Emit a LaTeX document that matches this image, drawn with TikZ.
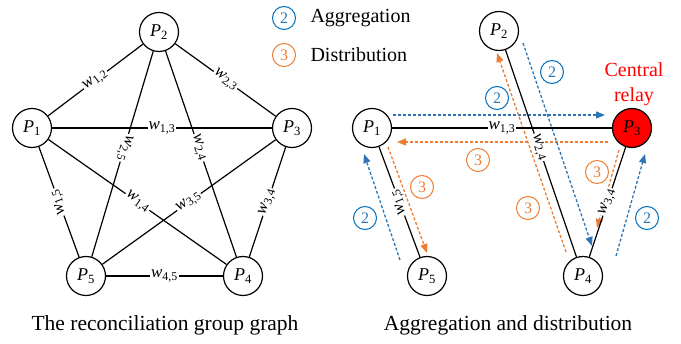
\documentclass[tikz,border=0pt]{standalone}
\usepackage{fontspec}
\setmainfont{Liberation Serif}
\usetikzlibrary{arrows.meta,positioning}

\definecolor{aggblue}{RGB}{46,117,182}
\definecolor{aggring}{RGB}{0,112,192}
\definecolor{disorange}{RGB}{237,125,49}

\newcommand{\Pn}[1]{\textit{P}\textsubscript{#1}}
\newcommand{\wn}[1]{\textit{w}\textsubscript{#1}}
\newcommand{\fsz}[1]{\fontsize{#1}{#1}\selectfont}

\tikzset{
  peer/.style={draw,circle,line width=1.2pt,minimum size=39pt,inner sep=0pt,font=\fsz{18}},
  wlabel/.style={fill=white,inner sep=1pt,font=\fsz{17},sloped,allow upside down},
  edge/.style={line width=1.2pt},
  aggarrow/.style={aggblue,line width=1.3pt,dash pattern=on 3pt off 2pt,-{Triangle[length=9pt,width=7pt]}},
  disarrow/.style={disorange,line width=1.3pt,dash pattern=on 3pt off 2pt,-{Triangle[length=9pt,width=7pt]}},
  aggnum/.style={draw=aggring,circle,line width=1pt,minimum size=23pt,inner sep=0pt,text=aggblue,font=\fsz{16}},
  disnum/.style={draw=disorange,circle,line width=1pt,minimum size=23pt,inner sep=0pt,text=disorange,font=\fsz{16}}
}

\begin{document}
\begin{tikzpicture}[x=1pt,y=-1pt]
    \useasboundingbox (0,0) rectangle (681,344);

    % the reconciliation group graph
    \node[peer] (l1) at (32,128) {\Pn{1}};
    \node[peer] (l2) at (159,32) {\Pn{2}};
    \node[peer] (l3) at (292,128) {\Pn{3}};
    \node[peer] (l4) at (243,276) {\Pn{4}};
    \node[peer] (l5) at (86,276) {\Pn{5}};

    \draw[edge] (l1) -- node[wlabel] {\wn{1,2}} (l2);
    \draw[edge] (l2) -- node[wlabel] {\wn{2,3}} (l3);
    \draw[edge] (l1) -- node[wlabel] {\wn{1,3}} (l3);
    \draw[edge] (l5) -- node[wlabel] {\wn{4,5}} (l4);
    \draw[edge] (l1) -- node[wlabel] {\wn{1,4}} (l4);
    \draw[edge] (l5) -- node[wlabel] {\wn{3,5}} (l3);
    \draw[edge] (l2) -- node[wlabel,pos=0.47] {\wn{2,5}} (l5);
    \draw[edge] (l2) -- node[wlabel,pos=0.47] {\wn{2,4}} (l4);
    \draw[edge] (l5) -- node[wlabel] {\wn{1,5}} (l1);
    \draw[edge] (l4) -- node[wlabel] {\wn{3,4}} (l3);

    \node[font=\fsz{21.5}] (capl) at (165,325) {The reconciliation group graph};

    % legend
    \node[aggnum] (leg2) at (284,18) {2};
    \node[font=\fsz{20},right=11pt of leg2] (legagg) {Aggregation};
    \node[disnum] (leg3) at (284,55) {3};
    \node[font=\fsz{20},right=11pt of leg3] (legdis) {Distribution};

    % aggregation and distribution
    \node[peer] (r1) at (372,128) {\Pn{1}};
    \node[peer] (r2) at (499,31) {\Pn{2}};
    \node[peer,fill=red] (r3) at (632,128) {\Pn{3}};
    \node[peer] (r4) at (583,276) {\Pn{4}};
    \node[peer] (r5) at (427,276) {\Pn{5}};

    \node[text=red,align=center,font=\fontsize{20}{25}\selectfont] (relay) at (634,84) {Central\\relay};

    \coordinate (a13s) at (393,115);
    \coordinate (a13e) at (605,115);
    \coordinate (d31s) at (608,142);
    \coordinate (d31e) at (397,142);
    \coordinate (a24s) at (523,43);
    \coordinate (a24e) at (592,246);
    \coordinate (d42s) at (566,252);
    \coordinate (d42e) at (497,53);
    \coordinate (d15s) at (388,147);
    \coordinate (d15e) at (427,253);
    \coordinate (a51s) at (400,260);
    \coordinate (a51e) at (364,154);
    \coordinate (d34s) at (619,150);
    \coordinate (d34e) at (597,228);
    \coordinate (a43s) at (616,256);
    \coordinate (a43e) at (645,154);

    \draw[aggarrow] (a13s) -- (a13e);
    \draw[disarrow] (d31s) -- (d31e);
    \draw[aggarrow] (a24s) -- (a24e);
    \draw[disarrow] (d42s) -- (d42e);
    \draw[disarrow] (d15s) -- (d15e);
    \draw[aggarrow] (a51s) -- (a51e);
    \draw[disarrow] (d34s) -- (d34e);
    \draw[aggarrow] (a43s) -- (a43e);

    \draw[edge] (r1) -- node[wlabel] {\wn{1,3}} (r3);
    \draw[edge] (r5) -- node[wlabel] {\wn{1,5}} (r1);
    \draw[edge] (r2) -- node[wlabel,pos=0.47] {\wn{2,4}} (r4);
    \draw[edge] (r4) -- node[wlabel] {\wn{3,4}} (r3);

    \node[aggnum] (n24) at (552,72) {2};
    \node[aggnum] (n13) at (497,98) {2};
    \node[disnum] (n31) at (478,160) {3};
    \node[disnum] (n42) at (528,208) {3};
    \node[disnum] (n15) at (422,187) {3};
    \node[aggnum] (n51) at (365,218) {2};
    \node[disnum] (n34) at (597,172) {3};
    \node[aggnum] (n43) at (647,218) {2};

    \node[font=\fsz{21.5}] (capr) at (508,325) {Aggregation and distribution};
\end{tikzpicture}
\end{document}
